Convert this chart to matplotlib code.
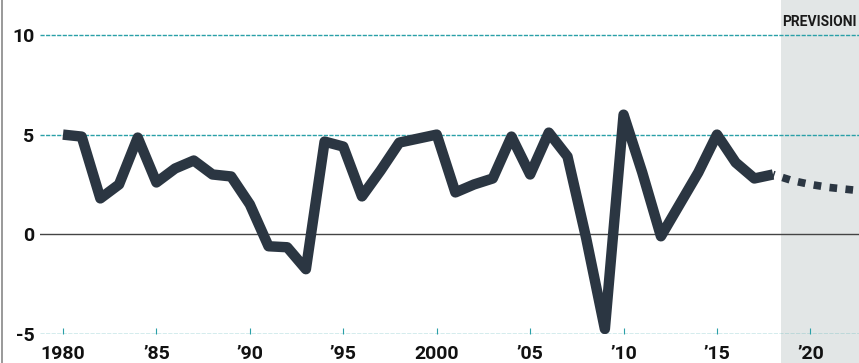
import matplotlib
matplotlib.use("Agg")
import matplotlib.pyplot as plt
from matplotlib.lines import Line2D

plt.rcParams["font.family"] = ["Liberation Sans Narrow", "Roboto", "DejaVu Sans"]

# historical series
years = list(range(1980, 2019))
values = [
    5.0, 4.9, 1.8, 2.5, 4.85, 2.6, 3.3, 3.7, 3.0, 2.9,
    1.5, -0.6, -0.65, -1.75, 4.65, 4.4, 1.9, 3.2, 4.6, 4.8,
    5.0, 2.1, 2.5, 2.8, 4.9, 3.0, 5.1, 3.9, -0.2, -4.75,
    6.0, 3.1, -0.1, 1.5, 3.1, 5.0, 3.6, 2.8, 3.0,
]

# forecast
fc_years = [2018, 2019, 2020, 2021, 2022, 2023]
fc_values = [3.0, 2.7, 2.5, 2.35, 2.25, 2.15]

xticks = [1980, 1985, 1990, 1995, 2000, 2005, 2010, 2015, 2020]
xlabels = ["1980", "\u201985", "\u201990", "\u201995", "2000",
           "\u201905", "\u201910", "\u201915", "\u201920"]
yticks = [-5, 0, 5, 10]

line_col = "#2b3642"
teal = "#2aa0a8"

fig = plt.figure(figsize=(8.59, 3.63), dpi=100)
ax = fig.add_axes([40 / 859, 29 / 363, 819 / 859, 334 / 363])
ax.set_xlim(1978.77, 2022.6)
ax.set_ylim(-5, 11.75)

# forecast shading
ax.axvspan(2018.4, 2023, ymin=-0.1, ymax=1.0, color="#e2e6e6",
           zorder=0, clip_on=False, lw=0)
ax.text(2018.5, 10.65, "PREVISIONI", fontsize=10, fontweight="bold",
        color="#1a1a1a", ha="left", va="center")

# gridlines
for v in [10, 5, -5]:
    ax.axhline(v, color=teal, lw=1.0, ls=(0, (3, 1)), zorder=1)
ax.axhline(0, color="#444444", lw=1.0, zorder=1)

ax.plot(years, values, color=line_col, lw=7.5,
        solid_joinstyle="round", solid_capstyle="butt", zorder=3)
ax.plot(fc_years, fc_values, color=line_col, lw=5.5,
        ls=(0.8, (1, 1.1)), dash_capstyle="butt", zorder=3)

for s in ax.spines.values():
    s.set_visible(False)

ax.set_xticks(xticks)
ax.set_xticklabels(xlabels)
ax.set_yticks(yticks)
ax.set_yticklabels([str(t) for t in yticks])
ax.tick_params(axis="x", direction="in", length=4, width=0.8,
               color=teal, pad=8, labelsize=14)
ax.tick_params(axis="y", length=0, pad=4, labelsize=14)
for lab in ax.get_xticklabels() + ax.get_yticklabels():
    lab.set_fontweight("bold")
    lab.set_color("#111111")

# left border of the scanned page
fig.add_artist(Line2D([0.002, 0.002], [0, 1], color="#888888", lw=1.2))

fig.savefig("out.png", dpi=100)
